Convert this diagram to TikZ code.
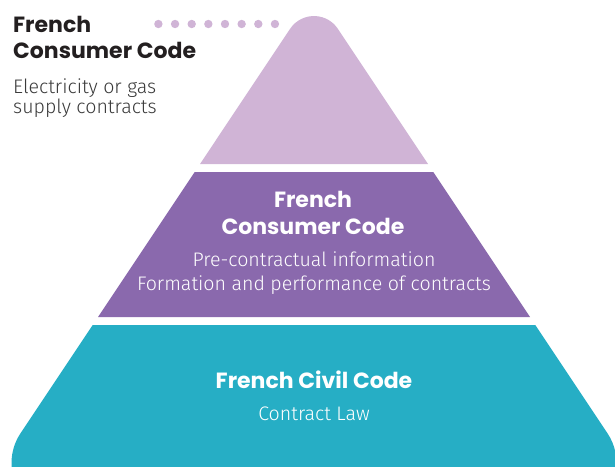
\documentclass[tikz,border=0pt]{standalone}
\usepackage{fontspec}
\newfontfamily\titlefont{Poppins}
\newfontfamily\bodyfont{Fira Sans Light}
\definecolor{lilac}{HTML}{D0B4D6}
\definecolor{violet}{HTML}{8A69AD}
\definecolor{teal}{HTML}{26AEC5}
\definecolor{ink}{HTML}{231F20}
\definecolor{bodyink}{HTML}{3A3A3A}
\begin{document}
\begin{tikzpicture}[x=1pt,y=-1pt,
  title/.style={font=\titlefont\bfseries\fontsize{22}{26}\selectfont, inner sep=0pt},
  body/.style={font=\bodyfont\fontsize{19.6}{24}\selectfont, inner sep=0pt},
  dot/.style={fill=lilac, draw=none}]
\useasboundingbox (0,0) rectangle (615,466);
\clip (0,0) rectangle (615,466);

% top tier with rounded apex
\fill[lilac] (200,164) -- (290.1,28.8)
  arc[start angle=213.7, end angle=326.3, radius=28.7] -- (428,164) -- cycle;
% middle tier
\fill[violet] (194.7,172) -- (433.3,172) -- (530,317) -- (98,317) -- cycle;
% base tier with rounded bottom corners
\fill[teal] (92.7,325) -- (535.3,325) -- (607.5,433.3)
  arc[start angle=-33.7, end angle=90, radius=53.6] -- (65.1,516.6)
  arc[start angle=90, end angle=213.7, radius=53.6] -- cycle;

% dotted leader
\foreach \i in {0,...,7}
  \fill[dot] (158.4+16.65*\i,24) circle[radius=4.2];

% top label
\node[title, text=ink, anchor=base west] (t1) at (13,32) {French};
\node[title, text=ink, anchor=base west] (t2) at (13,58) {Consumer Code};
\node[body, text=bodyink, anchor=base west] (t3) at (13,93) {Electricity or gas};
\node[body, text=bodyink, anchor=base west] (t4) at (13,113.5) {supply contracts};

% middle label
\node[title, text=white, anchor=base] (m1) at (313,207) {French};
\node[title, text=white, anchor=base] (m2) at (313,234) {Consumer Code};
\node[body, text=white, anchor=base] (m3) at (314,266) {Pre-contractual information};
\node[body, text=white, anchor=base] (m4) at (314,290) {Formation and performance of contracts};

% base label
\node[title, text=white, anchor=base] (b1) at (314,388) {French Civil Code};
\node[body, text=white, anchor=base] (b2) at (314,420) {Contract Law};
\end{tikzpicture}
\end{document}
